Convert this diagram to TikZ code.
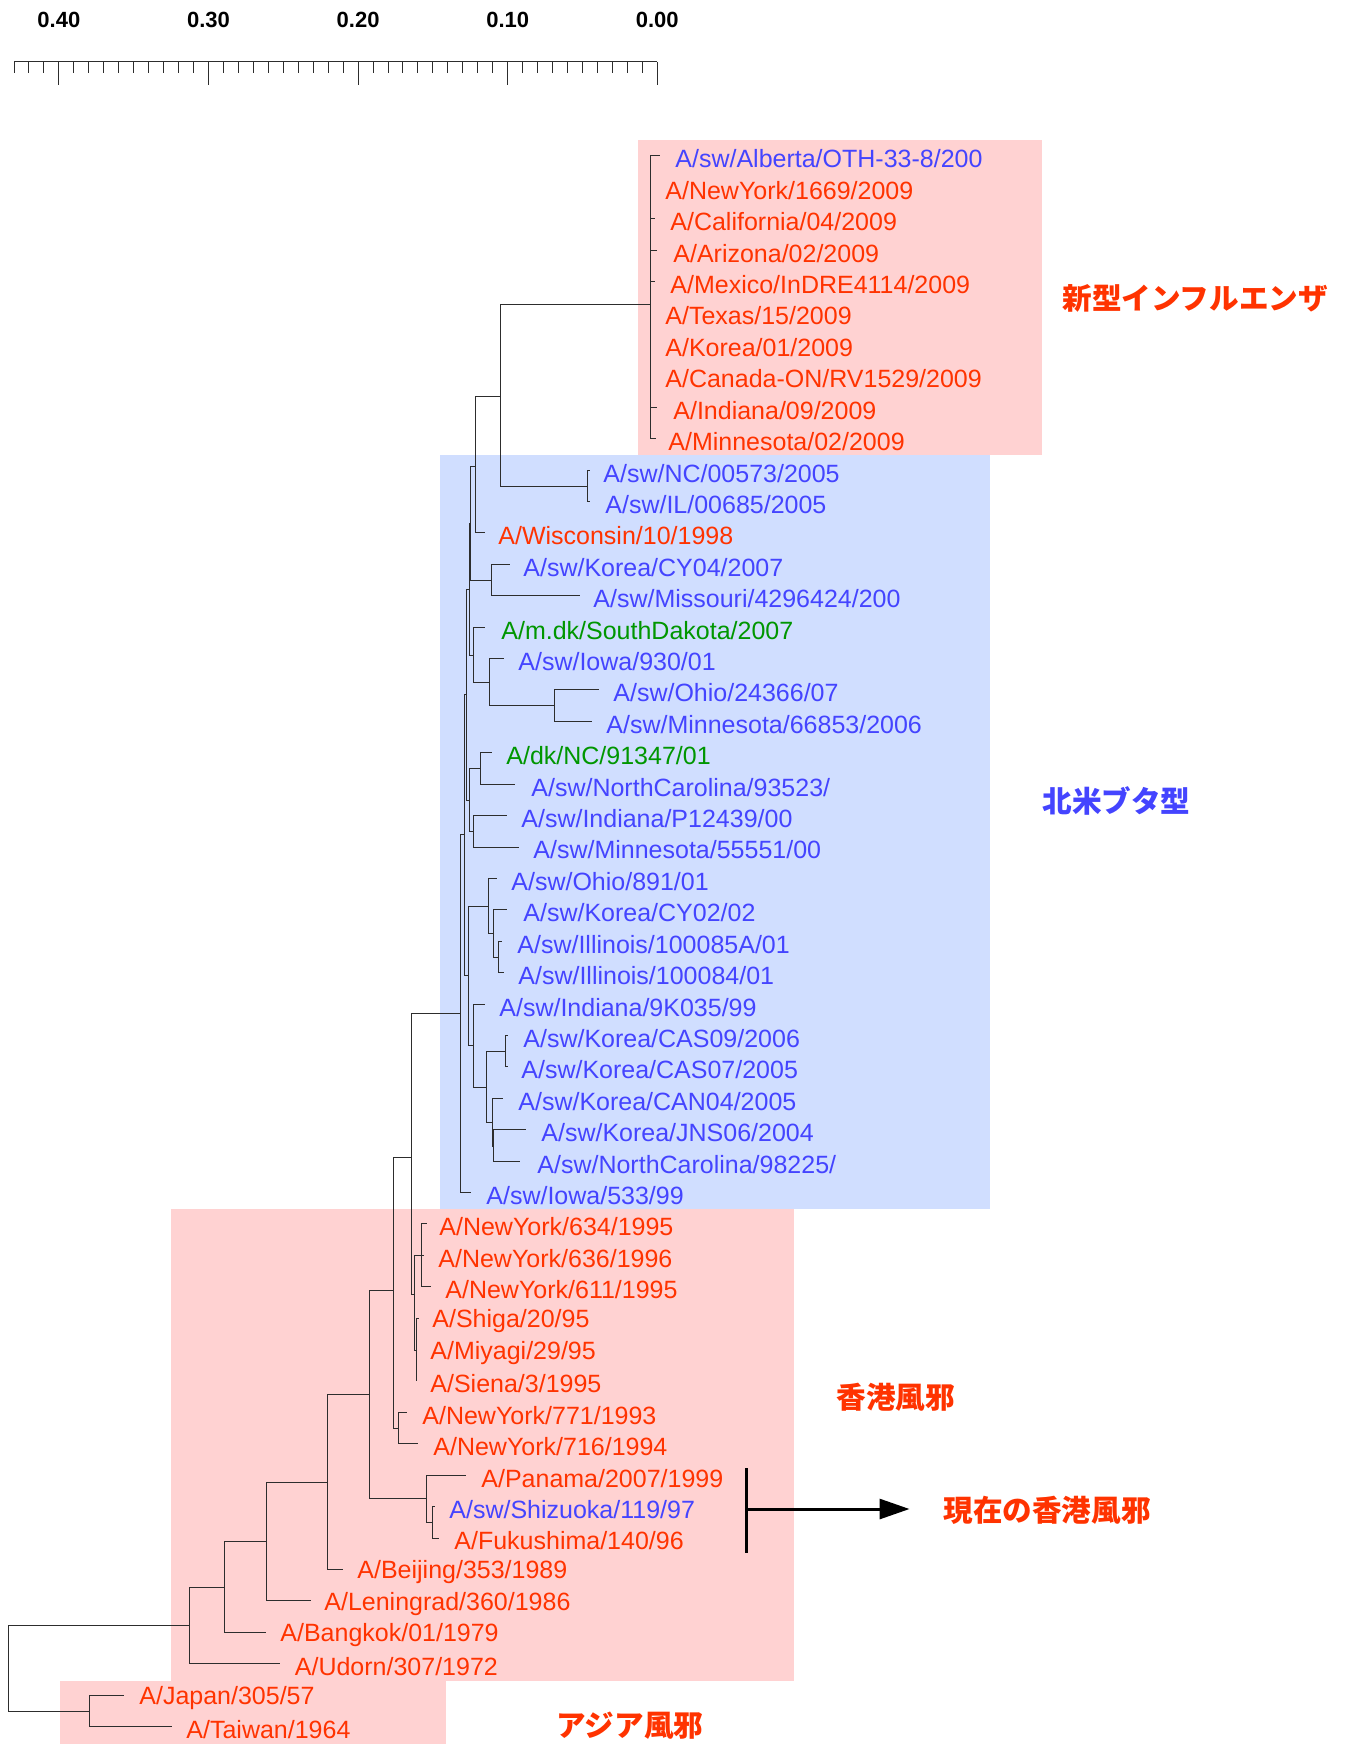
\documentclass[tikz,border=0pt]{standalone}
\usepackage{fontspec}
\setmainfont{Liberation Sans}
\newfontfamily\jpfont{Noto Sans CJK JP}
\usetikzlibrary{arrows.meta}
\definecolor{tred}{RGB}{255,51,0}
\definecolor{tblue}{RGB}{68,68,255}
\definecolor{tgreen}{RGB}{0,150,0}
\definecolor{pinkbg}{RGB}{255,210,210}
\definecolor{bluebg}{RGB}{208,222,255}
\definecolor{branch}{RGB}{45,45,45}
\newcommand\tleaf[6]{%
  \pgfmathsetmacro\ry{159+31.41*(#2-1)}%
  \coordinate (#1) at (#3,\ry-3);
  \node[lab,text=#5] (#1L) at (#4,\ry) {#6};
}
\begin{document}
\begin{tikzpicture}[x=0.5pt,y=-0.5pt,
  lab/.style={anchor=west,inner sep=0pt,font=\fontsize{12.5}{14}\selectfont},
  br/.style={draw=branch,line width=0.5pt},
  jlab/.style={anchor=west,inner sep=0pt,font=\jpfont\bfseries\fontsize{14.8}{16}\selectfont},
  scl/.style={font=\bfseries\fontsize{11}{13}\selectfont,inner sep=0pt},
  tick/.style={draw=branch,line width=0.5pt}]
\path[use as bounding box] (0,0) rectangle (1348,1744);
% backgrounds
\fill[pinkbg] (638,140) rectangle (1042,455);
\fill[bluebg] (440,455) rectangle (990,1209);
\fill[pinkbg] (171,1209) rectangle (794,1681);
\fill[pinkbg] (60,1681) rectangle (446,1744);
% scale bar
\draw[tick] (14,62) -- (657.3,62);
\foreach \i in {0,...,43}{
  \pgfmathsetmacro\tx{657.3-14.96*\i}
  \pgfmathtruncatemacro\m{mod(\i,10)}
  \ifnum\m=0 \draw[tick] (\tx,62) -- (\tx,85); \else \draw[tick] (\tx,62) -- (\tx,73); \fi
}
\foreach \v/\i in {0.40/4,0.30/3,0.20/2,0.10/1,0.00/0}
  \node[scl] (s\i) at ({657.3-149.6*\i},20) {\v};
% leaves
\tleaf{t1}{1}{660}{675}{tblue}{A/sw/Alberta/OTH-33-8/200}
\tleaf{t2}{2}{650}{665}{tred}{A/NewYork/1669/2009}
\tleaf{t3}{3}{655}{670}{tred}{A/California/04/2009}
\tleaf{t4}{4}{657}{673}{tred}{A/Arizona/02/2009}
\tleaf{t5}{5}{655}{670}{tred}{A/Mexico/InDRE4114/2009}
\tleaf{t6}{6}{650}{665}{tred}{A/Texas/15/2009}
\tleaf{t7}{7}{650}{665}{tred}{A/Korea/01/2009}
\tleaf{t8}{8}{650}{665}{tred}{A/Canada-ON/RV1529/2009}
\tleaf{t9}{9}{657}{673}{tred}{A/Indiana/09/2009}
\tleaf{t10}{10}{656}{668}{tred}{A/Minnesota/02/2009}
\tleaf{t11}{11}{590}{603}{tblue}{A/sw/NC/00573/2005}
\tleaf{t12}{12}{590}{605}{tblue}{A/sw/IL/00685/2005}
\tleaf{t13}{13}{485}{498}{tred}{A/Wisconsin/10/1998}
\tleaf{t14}{14}{510}{523}{tblue}{A/sw/Korea/CY04/2007}
\tleaf{t15}{15}{580}{593}{tblue}{A/sw/Missouri/4296424/200}
\tleaf{t16}{16}{485}{501}{tgreen}{A/m.dk/SouthDakota/2007}
\tleaf{t17}{17}{504}{518}{tblue}{A/sw/Iowa/930/01}
\tleaf{t18}{18}{599}{613}{tblue}{A/sw/Ohio/24366/07}
\tleaf{t19}{19}{592}{606}{tblue}{A/sw/Minnesota/66853/2006}
\tleaf{t20}{20}{492}{506}{tgreen}{A/dk/NC/91347/01}
\tleaf{t21}{21}{515}{531}{tblue}{A/sw/NorthCarolina/93523/}
\tleaf{t22}{22}{507}{521}{tblue}{A/sw/Indiana/P12439/00}
\tleaf{t23}{23}{519}{533}{tblue}{A/sw/Minnesota/55551/00}
\tleaf{t24}{24}{497}{511}{tblue}{A/sw/Ohio/891/01}
\tleaf{t25}{25}{507}{523}{tblue}{A/sw/Korea/CY02/02}
\tleaf{t26}{26}{502}{517}{tblue}{A/sw/Illinois/100085A/01}
\tleaf{t27}{27}{504}{518}{tblue}{A/sw/Illinois/100084/01}
\tleaf{t28}{28}{485}{499}{tblue}{A/sw/Indiana/9K035/99}
\tleaf{t29}{29}{508}{523}{tblue}{A/sw/Korea/CAS09/2006}
\tleaf{t30}{30}{508}{521}{tblue}{A/sw/Korea/CAS07/2005}
\tleaf{t31}{31}{503}{518}{tblue}{A/sw/Korea/CAN04/2005}
\tleaf{t32}{32}{526}{541}{tblue}{A/sw/Korea/JNS06/2004}
\tleaf{t33}{33}{520}{537}{tblue}{A/sw/NorthCarolina/98225/}
\tleaf{t34}{34}{471}{486}{tblue}{A/sw/Iowa/533/99}
\tleaf{t35}{35}{427}{439}{tred}{A/NewYork/634/1995}
\tleaf{t36}{36}{424}{438}{tred}{A/NewYork/636/1996}
\tleaf{t37}{37}{431}{445}{tred}{A/NewYork/611/1995}
\tleaf{t38}{38}{419}{432}{tred}{A/Shiga/20/95}
\tleaf{t39}{39}{416}{430}{tred}{A/Miyagi/29/95}
\tleaf{t40}{40}{416}{430}{tred}{A/Siena/3/1995}
\tleaf{t41}{41}{407}{422}{tred}{A/NewYork/771/1993}
\tleaf{t42}{42}{418}{433}{tred}{A/NewYork/716/1994}
\tleaf{t43}{43}{466}{481}{tred}{A/Panama/2007/1999}
\tleaf{t44}{44}{435}{449}{tblue}{A/sw/Shizuoka/119/97}
\tleaf{t45}{45}{439}{454}{tred}{A/Fukushima/140/96}
\tleaf{t46}{46}{343}{357}{tred}{A/Beijing/353/1989}
\tleaf{t47}{47}{311}{324}{tred}{A/Leningrad/360/1986}
\tleaf{t48}{48}{265.6}{280}{tred}{A/Bangkok/01/1979}
\tleaf{t49}{49}{279.5}{294.5}{tred}{A/Udorn/307/1972}
\tleaf{t50}{50}{124}{139}{tred}{A/Japan/305/57}
\tleaf{t51}{51}{172}{186}{tred}{A/Taiwan/1964}
% internal nodes
\coordinate (nTop) at (650,304);
\coordinate (nNC) at (587,486);
\coordinate (n2) at (500,396);
\coordinate (n3) at (475,466);
\coordinate (nKM) at (491,580);
\coordinate (n4) at (470,523);
\coordinate (nOM) at (554,705);
\coordinate (nIO) at (489,682);
\coordinate (nSD) at (473,655);
\coordinate (n5) at (469,589);
\coordinate (nDK) at (480,768);
\coordinate (nIM) at (473,831);
\coordinate (n6) at (469,800);
\coordinate (n7) at (466,694);
\coordinate (nIL) at (498,957);
\coordinate (nCY) at (493,933);
\coordinate (nOH) at (488,906);
\coordinate (nCAS) at (505,1051);
\coordinate (nJN) at (493,1146);
\coordinate (nCAN) at (492,1122);
\coordinate (nK) at (486,1087);
\coordinate (nIN) at (473,1045);
\coordinate (n8) at (468,975);
\coordinate (n9) at (464,834);
\coordinate (n10) at (460,1013);
\coordinate (nNY) at (421,1255);
\coordinate (nSH) at (416,1350);
\coordinate (nP) at (414,1294);
\coordinate (n11) at (411,1157);
\coordinate (n77) at (398,1428);
\coordinate (n12) at (393,1290);
\coordinate (nSF) at (432,1522);
\coordinate (nPSF) at (426,1498);
\coordinate (n13) at (369,1394);
\coordinate (n14) at (327,1482);
\coordinate (n15) at (266,1541);
\coordinate (n16) at (224.5,1587);
\coordinate (n17) at (189,1625);
\coordinate (nJT) at (89,1711);
\coordinate (root) at (8,1668);
% branches
\foreach \p/\c in {nTop/t1,nTop/t2,nTop/t3,nTop/t4,nTop/t5,nTop/t6,nTop/t7,nTop/t8,nTop/t9,nTop/t10,
  nNC/t11,nNC/t12,n2/nTop,n2/nNC,n3/n2,n3/t13,nKM/t14,nKM/t15,n4/n3,n4/nKM,
  nOM/t18,nOM/t19,nIO/t17,nIO/nOM,nSD/t16,nSD/nIO,n5/n4,n5/nSD,
  nDK/t20,nDK/t21,nIM/t22,nIM/t23,n6/nDK,n6/nIM,n7/n5,n7/n6,
  nIL/t26,nIL/t27,nCY/t25,nCY/nIL,nOH/t24,nOH/nCY,
  nCAS/t29,nCAS/t30,nJN/t32,nJN/t33,nCAN/t31,nCAN/nJN,nK/nCAS,nK/nCAN,
  nIN/t28,nIN/nK,n8/nOH,n8/nIN,n9/n7,n9/n8,n10/n9,n10/t34,
  nNY/t35,nNY/t36,nNY/t37,nSH/t38,nSH/t39,nSH/t40,nP/nNY,nP/nSH,
  n11/n10,n11/nP,n77/t41,n77/t42,n12/n11,n12/n77,
  nSF/t44,nSF/t45,nPSF/t43,nPSF/nSF,n13/n12,n13/nPSF,
  n14/n13,n14/t46,n15/n14,n15/t47,n16/n15,n16/t48,n17/n16,n17/t49,
  nJT/t50,nJT/t51,root/n17,root/nJT}
  \draw[br] (\p) |- (\c);
% group labels
\node[jlab,text=tred] (gNew) at (1062,298) {新型インフルエンザ};
\node[jlab,text=tblue] (gNA) at (1042,801) {北米ブタ型};
\node[jlab,text=tred] (gHK) at (836,1397) {香港風邪};
\node[jlab,text=tred] (gCur) at (943,1510) {現在の香港風邪};
\node[jlab,text=tred] (gAs) at (556,1726) {アジア風邪};
% bracket and arrow
\coordinate (barT) at (746.5,1468);
\coordinate (barB) at (746.5,1553);
\coordinate (barM) at (746.5,1509);
\coordinate (atip) at (909.5,1509);
\draw[line width=1.5pt] (barT) -- (barB);
\draw[line width=1.5pt,-{Triangle[length=15pt,width=10pt]}] (barM) -- (atip);
\end{tikzpicture}
\end{document}
